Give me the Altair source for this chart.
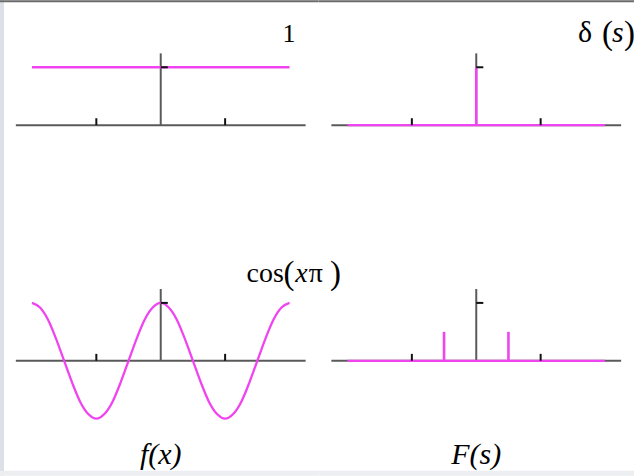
import altair as alt
import pandas as pd

# ---- signal values ----
# f(x) = 1 on [-2, 2]
const_x = [-2.0, 2.0]
const_y = [1.0, 1.0]

# f(x) = cos(pi x), sampled every eighth of a unit on [-2, 2]
cos_x = [-2.0, -1.875, -1.75, -1.625, -1.5, -1.375, -1.25, -1.125,
         -1.0, -0.875, -0.75, -0.625, -0.5, -0.375, -0.25, -0.125,
         0.0, 0.125, 0.25, 0.375, 0.5, 0.625, 0.75, 0.875,
         1.0, 1.125, 1.25, 1.375, 1.5, 1.625, 1.75, 1.875, 2.0]
cos_y = [1.0, 0.92, 0.71, 0.38, 0.0, -0.38, -0.71, -0.92,
         -1.0, -0.92, -0.71, -0.38, 0.0, 0.38, 0.71, 0.92,
         1.0, 0.92, 0.71, 0.38, 0.0, -0.38, -0.71, -0.92,
         -1.0, -0.92, -0.71, -0.38, 0.0, 0.38, 0.71, 0.92, 1.0]

# F(s): zero baseline plus impulses
base_x = [-2.0, 2.0]
base_y = [0.0, 0.0]
delta_pos = [0.0]
delta_amp = [1.0]
pair_pos = [-0.5, 0.5]
pair_amp = [0.5, 0.5]

# ---- hand-drawn axes ----
axis_x_extent = [-2.25, 2.25]
axis_y_top = 1.24
xtick_pos = [-1.0, 1.0]
xtick_len = 0.12
ytick_pos = [1.0]
ytick_len = 0.11

MAGENTA = "#f044f0"
AXIS = "#5a5a5a"
TICK = "#111111"
FONT = "Liberation Serif"

ROW_H = 238
LEFT_W, RIGHT_W = 319, 316
X_LEFT = [-2.496, 2.450]
X_RIGHT = [-2.450, 2.450]
Y_TOP = [-1.948, 2.155]
Y_BOTTOM = [-1.983, 2.121]

one = pd.DataFrame({"k": [0]})


def enc_x(field, dom):
    return alt.X(field, type="quantitative", scale=alt.Scale(domain=dom, nice=False, zero=False), axis=None)


def enc_y(field, dom):
    return alt.Y(field, type="quantitative", scale=alt.Scale(domain=dom, nice=False, zero=False), axis=None)


def axes_layers(xdom, ydom):
    hx = pd.DataFrame({"x": [axis_x_extent[0]], "x2": [axis_x_extent[1]], "y": [0.0]})
    vy = pd.DataFrame({"x": [0.0], "y": [0.0], "y2": [axis_y_top]})
    h = alt.Chart(hx).mark_rule(color=AXIS, strokeWidth=2).encode(
        x=enc_x("x", xdom), x2="x2", y=enc_y("y", ydom))
    v = alt.Chart(vy).mark_rule(color=AXIS, strokeWidth=2).encode(
        x=enc_x("x", xdom), y=enc_y("y", ydom), y2="y2")
    return [h, v]


def tick_layers(xdom, ydom):
    xt = pd.DataFrame({"x": xtick_pos, "y": [0.0] * len(xtick_pos), "y2": [xtick_len] * len(xtick_pos)})
    yt = pd.DataFrame({"x": [0.0] * len(ytick_pos), "x2": [ytick_len] * len(ytick_pos), "y": ytick_pos})
    a = alt.Chart(xt).mark_rule(color=TICK, strokeWidth=2).encode(
        x=enc_x("x", xdom), y=enc_y("y", ydom), y2="y2")
    b = alt.Chart(yt).mark_rule(color=TICK, strokeWidth=2).encode(
        x=enc_x("x", xdom), x2="x2", y=enc_y("y", ydom))
    return [a, b]


def text_layer(rows, xdom, ydom, size, italic=False, align="left"):
    df = pd.DataFrame(rows, columns=["x", "y", "t"])
    return alt.Chart(df).mark_text(
        font=FONT, fontSize=size, fontStyle="italic" if italic else "normal",
        align=align, baseline="alphabetic", color="black"
    ).encode(x=enc_x("x", xdom), y=enc_y("y", ydom), text="t:N")


def band(color, x0, x1, y0, y1):
    # unstroked strip along the page edge
    return alt.Chart(one).mark_rect(color=color, strokeWidth=0).encode(
        x=alt.value(x0), x2=alt.value(x1), y=alt.value(y0), y2=alt.value(y1))


def frame_layers(width, top=False, left=False, bottom=False):
    out = []
    if left:
        out.append(band("#dde1e7", 0, 4, 0, ROW_H))
    if bottom:
        out.append(band("#eceef1", 0, width, ROW_H - 5, ROW_H))
    if top:
        out.append(band("#6a6a6a", 0, width, 0, 2))
    return out


def line_layer(xs, ys, xdom, ydom, interp="linear"):
    df = pd.DataFrame({"x": xs, "y": ys})
    return alt.Chart(df).mark_line(color=MAGENTA, strokeWidth=2.3, interpolate=interp).encode(
        x=enc_x("x", xdom), y=enc_y("y", ydom), order="x:Q")


def spike_layer(pos, amp, xdom, ydom):
    df = pd.DataFrame({"x": pos, "y0": [0.0] * len(pos), "y": amp})
    return alt.Chart(df).mark_rule(color=MAGENTA, strokeWidth=2.6).encode(
        x=enc_x("x", xdom), y=enc_y("y0", ydom), y2="y")


# top-left: constant 1
tl = alt.layer(
    *frame_layers(LEFT_W, top=True, left=True),
    *axes_layers(X_LEFT, Y_TOP),
    line_layer(const_x, const_y, X_LEFT, Y_TOP),
    *tick_layers(X_LEFT, Y_TOP),
    text_layer([(2.093, 1.431, "1")], X_LEFT, Y_TOP, 26, align="right"),
).properties(width=LEFT_W, height=ROW_H)

# top-right: delta(s)
tr = alt.layer(
    *frame_layers(RIGHT_W, top=True),
    *axes_layers(X_RIGHT, Y_TOP),
    line_layer(base_x, base_y, X_RIGHT, Y_TOP),
    spike_layer(delta_pos, delta_amp, X_RIGHT, Y_TOP),
    *tick_layers(X_RIGHT, Y_TOP),
    text_layer([(1.581, 1.43, "δ")], X_RIGHT, Y_TOP, 30),
    text_layer([(1.953, 1.40, "("), (2.295, 1.40, ")")], X_RIGHT, Y_TOP, 33),
    text_layer([(2.109, 1.43, "s")], X_RIGHT, Y_TOP, 30, italic=True),
).properties(width=RIGHT_W, height=ROW_H)

# bottom-left: cos(x pi)
bl = alt.layer(
    *frame_layers(LEFT_W, left=True, bottom=True),
    *axes_layers(X_LEFT, Y_BOTTOM),
    line_layer(cos_x, cos_y, X_LEFT, Y_BOTTOM, interp="monotone"),
    *tick_layers(X_LEFT, Y_BOTTOM),
    text_layer([(1.333, 1.362, "cos"), (2.30, 1.362, "π")], X_LEFT, Y_BOTTOM, 28),
    text_layer([(1.907, 1.33, "("), (2.63, 1.33, ")")], X_LEFT, Y_BOTTOM, 33),
    text_layer([(2.09, 1.362, "x")], X_LEFT, Y_BOTTOM, 28, italic=True),
    text_layer([(0.0, -1.776, "f(x)")], X_LEFT, Y_BOTTOM, 30, italic=True, align="center"),
).properties(width=LEFT_W, height=ROW_H)

# bottom-right: pair of half impulses at s = ±1/2
br = alt.layer(
    *frame_layers(RIGHT_W, bottom=True),
    *axes_layers(X_RIGHT, Y_BOTTOM),
    line_layer(base_x, base_y, X_RIGHT, Y_BOTTOM),
    spike_layer(pair_pos, pair_amp, X_RIGHT, Y_BOTTOM),
    *tick_layers(X_RIGHT, Y_BOTTOM),
    text_layer([(0.0, -1.776, "F(s)")], X_RIGHT, Y_BOTTOM, 30, italic=True, align="center"),
).properties(width=RIGHT_W, height=ROW_H)

chart = alt.concat(
    tl, tr, bl, br, columns=2, spacing=0, bounds="flush",
).properties(padding=0, background="white").configure_view(stroke=None)

chart.save("out.html", embed_options={"renderer": "svg", "actions": False})
